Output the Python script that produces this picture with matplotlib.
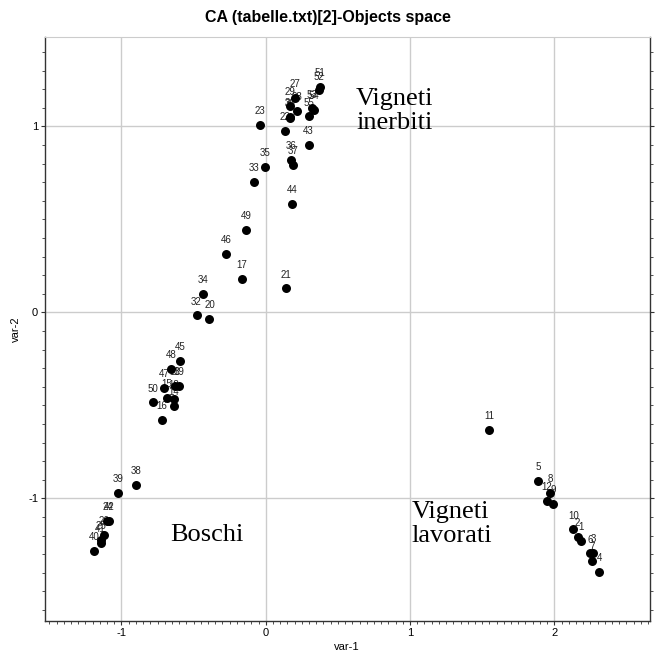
import matplotlib
matplotlib.use("Agg")
import matplotlib.pyplot as plt
from matplotlib.ticker import MultipleLocator

# ---- data ----
point_labels = [str(i) for i in range(1, 56)]
var1 = [2.185, 2.162, 2.270, 2.312, 1.885, 2.247, 2.259, 1.970, 1.993, 2.132,
        1.550, 1.947, -0.630, -0.635, -0.684, -0.718, -0.166, -0.635, -0.603, -0.390,
        0.139, 0.130, -0.039, -1.097, -1.139, -1.122, 0.200, 0.216, 0.165, 0.165,
        0.169, -0.480, -0.081, -0.436, -0.002, 0.175, 0.192, -0.901, -1.023, -1.189,
        -1.145, -1.085, 0.297, 0.185, -0.596, -0.275, -0.704, -0.654, -0.134, -0.781,
        0.378, 0.367, 0.323, 0.332, 0.297]
var2 = [-1.228, -1.206, -1.292, -1.396, -0.907, -1.296, -1.335, -0.973, -1.030, -1.167,
        -0.633, -1.014, -0.394, -0.502, -0.461, -0.577, 0.181, -0.466, -0.394, -0.036,
        0.129, 0.977, 1.009, -1.120, -1.224, -1.197, 1.152, 1.084, 1.111, 1.045,
        1.050, -0.016, 0.704, 0.099, 0.781, 0.819, 0.794, -0.928, -0.970, -1.281,
        -1.242, -1.120, 0.901, 0.584, -0.260, 0.314, -0.407, -0.305, 0.444, -0.484,
        1.211, 1.194, 1.097, 1.090, 1.054]

group_texts = ["Vigneti\ninerbiti", "Boschi", "Vigneti\nlavorati"]
group_x = [0.626, -0.663, 1.011]
group_y = [1.083, -1.195, -1.137]

title = "CA (tabelle.txt)[2]-Objects space"
xticks = [-1, 0, 1, 2]
yticks = [-1, 0, 1]

# ---- figure ----
fig = plt.figure(figsize=(6.55, 6.59), dpi=100)
ax = fig.add_axes([0.0687, 0.0575, 0.923, 0.886])
ax.set_xlim(-1.53, 2.66)
ax.set_ylim(-1.66, 1.48)

ax.set_xticks(xticks)
ax.set_yticks(yticks)
ax.set_xticklabels(["-1", "0", "1", "2"], fontfamily="Liberation Sans", fontsize=8)
ax.set_yticklabels(["-1", "0", "1"], fontfamily="Liberation Sans", fontsize=8)
ax.xaxis.set_minor_locator(MultipleLocator(0.05))
ax.yaxis.set_minor_locator(MultipleLocator(0.1))
ax.tick_params(which="both", direction="out", right=True, top=False,
               labelright=False, color="#333333")
ax.tick_params(which="major", length=3, width=0.8, pad=2)
ax.tick_params(which="minor", length=2, width=0.6)
ax.grid(True, which="major", color="#cccccc", linewidth=1.0)
ax.set_axisbelow(True)

for s in ["left", "bottom", "right"]:
    ax.spines[s].set_color("#333333")
    ax.spines[s].set_linewidth(1.0)
ax.spines["top"].set_color("#cccccc")

ax.scatter(var1, var2, s=42, color="black", zorder=3, linewidths=0)
for lab, xv, yv in zip(point_labels, var1, var2):
    ax.annotate(lab, (xv, yv), xytext=(0, 10), textcoords="offset points",
                ha="center", va="center", fontsize=7,
                fontfamily="Liberation Sans", color="#222222", zorder=2)

for t, gx, gy in zip(group_texts, group_x, group_y):
    ax.text(gx, gy, t, ha="left", va="center", fontsize=19,
            fontfamily="Liberation Serif", linespacing=1.08, color="black")

ax.set_xlabel("var-1", fontfamily="Liberation Sans", fontsize=8, labelpad=3)
ax.set_ylabel("var-2", fontfamily="Liberation Sans", fontsize=8, labelpad=5)
fig.text(0.5, 0.974, title, ha="center", va="center", fontsize=11.5,
         fontweight="bold", fontfamily="Liberation Sans")

fig.savefig("out.png", dpi=100)
